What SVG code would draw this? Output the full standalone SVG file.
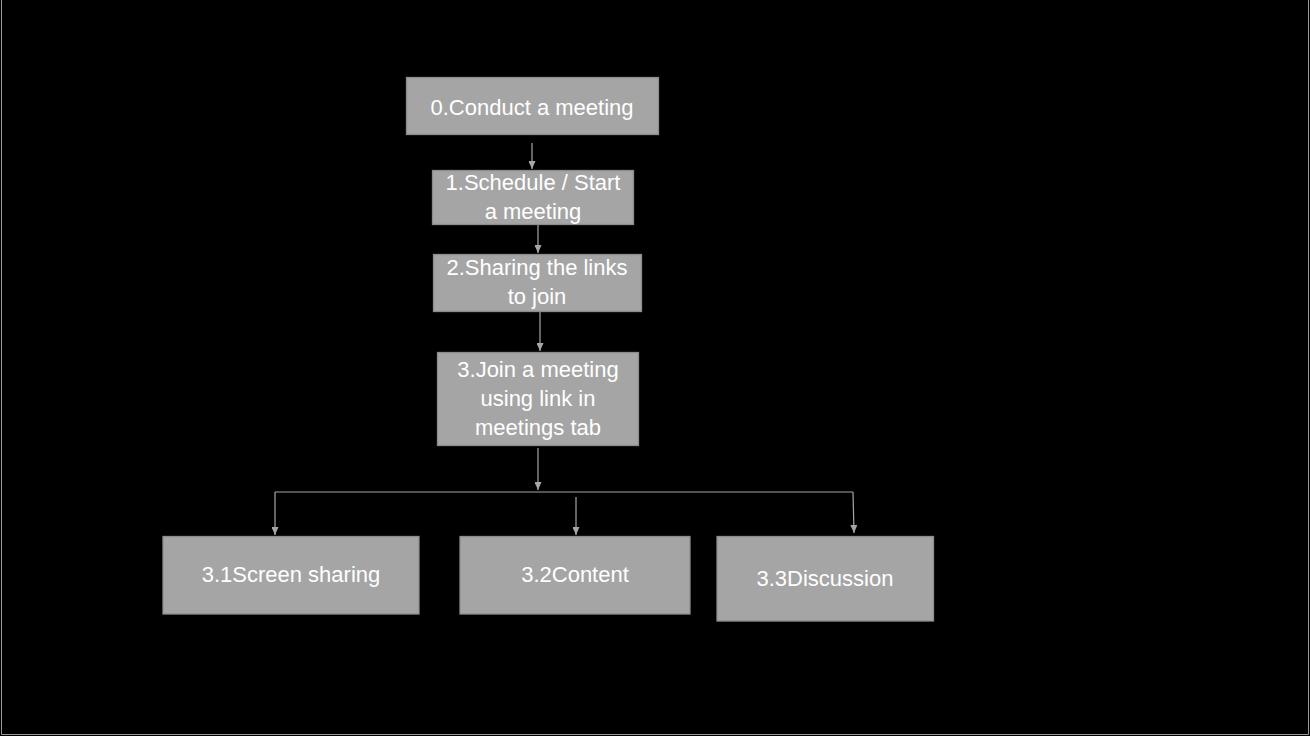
<svg xmlns="http://www.w3.org/2000/svg" width="1310" height="736" viewBox="0 0 1310 736">
<style>
.box{fill:#a5a5a5;stroke:#8c8c8c;stroke-width:1.3}
.t{font-family:"Liberation Sans",Arial,sans-serif;font-size:22px;fill:#ffffff;text-anchor:middle}
.c{stroke:#a6a6a6;stroke-width:1.2;fill:none}
</style>
<defs>
<marker id="ah" viewBox="0 0 10 10" refX="10" refY="5" markerWidth="8" markerHeight="7" markerUnits="userSpaceOnUse" orient="auto" preserveAspectRatio="none">
<path d="M0,0 L10,5 L0,10 z" fill="#a6a6a6"/>
</marker>
</defs>
<rect width="1310" height="736" fill="#000000"/>
<path d="M1.5,0 V734.5 H1308.5 V0" fill="none" stroke="#9a9a9a" stroke-width="1"/>
<g id="connectors">
<line class="c" x1="532" y1="143" x2="532" y2="169" marker-end="url(#ah)"/>
<line class="c" x1="538" y1="224" x2="538" y2="253" marker-end="url(#ah)"/>
<line class="c" x1="540" y1="312" x2="540" y2="351" marker-end="url(#ah)"/>
<line class="c" x1="538" y1="448" x2="538" y2="490" marker-end="url(#ah)"/>
<line class="c" x1="275" y1="492" x2="853" y2="492"/>
<line class="c" x1="275" y1="492" x2="275" y2="535" marker-end="url(#ah)"/>
<line class="c" x1="576" y1="497" x2="576" y2="535" marker-end="url(#ah)"/>
<line class="c" x1="853" y1="492" x2="854" y2="533" marker-end="url(#ah)"/>
</g>
<g id="n0">
<rect class="box" x="406.5" y="77.5" width="252" height="57"/>
<text class="t" x="532" y="115">0.Conduct a meeting</text>
</g>
<g id="n1">
<rect class="box" x="432.5" y="170.5" width="201" height="54"/>
<text class="t" x="533" y="190">1.Schedule / Start</text>
<text class="t" x="533" y="219">a meeting</text>
</g>
<g id="n2">
<rect class="box" x="433.5" y="254.5" width="208" height="57"/>
<text class="t" x="537" y="275">2.Sharing the links</text>
<text class="t" x="537" y="304">to join</text>
</g>
<g id="n3">
<rect class="box" x="437.5" y="352.5" width="201" height="93"/>
<text class="t" x="538" y="377">3.Join a meeting</text>
<text class="t" x="538" y="406">using link in</text>
<text class="t" x="538" y="435">meetings tab</text>
</g>
<g id="n31">
<rect class="box" x="163" y="536.5" width="256" height="77.5"/>
<text class="t" x="291" y="582">3.1Screen sharing</text>
</g>
<g id="n32">
<rect class="box" x="460" y="536.5" width="230" height="77.5"/>
<text class="t" x="575" y="582">3.2Content</text>
</g>
<g id="n33">
<rect class="box" x="717" y="536.5" width="216.5" height="84.5"/>
<text class="t" x="825" y="586">3.3Discussion</text>
</g>
</svg>
